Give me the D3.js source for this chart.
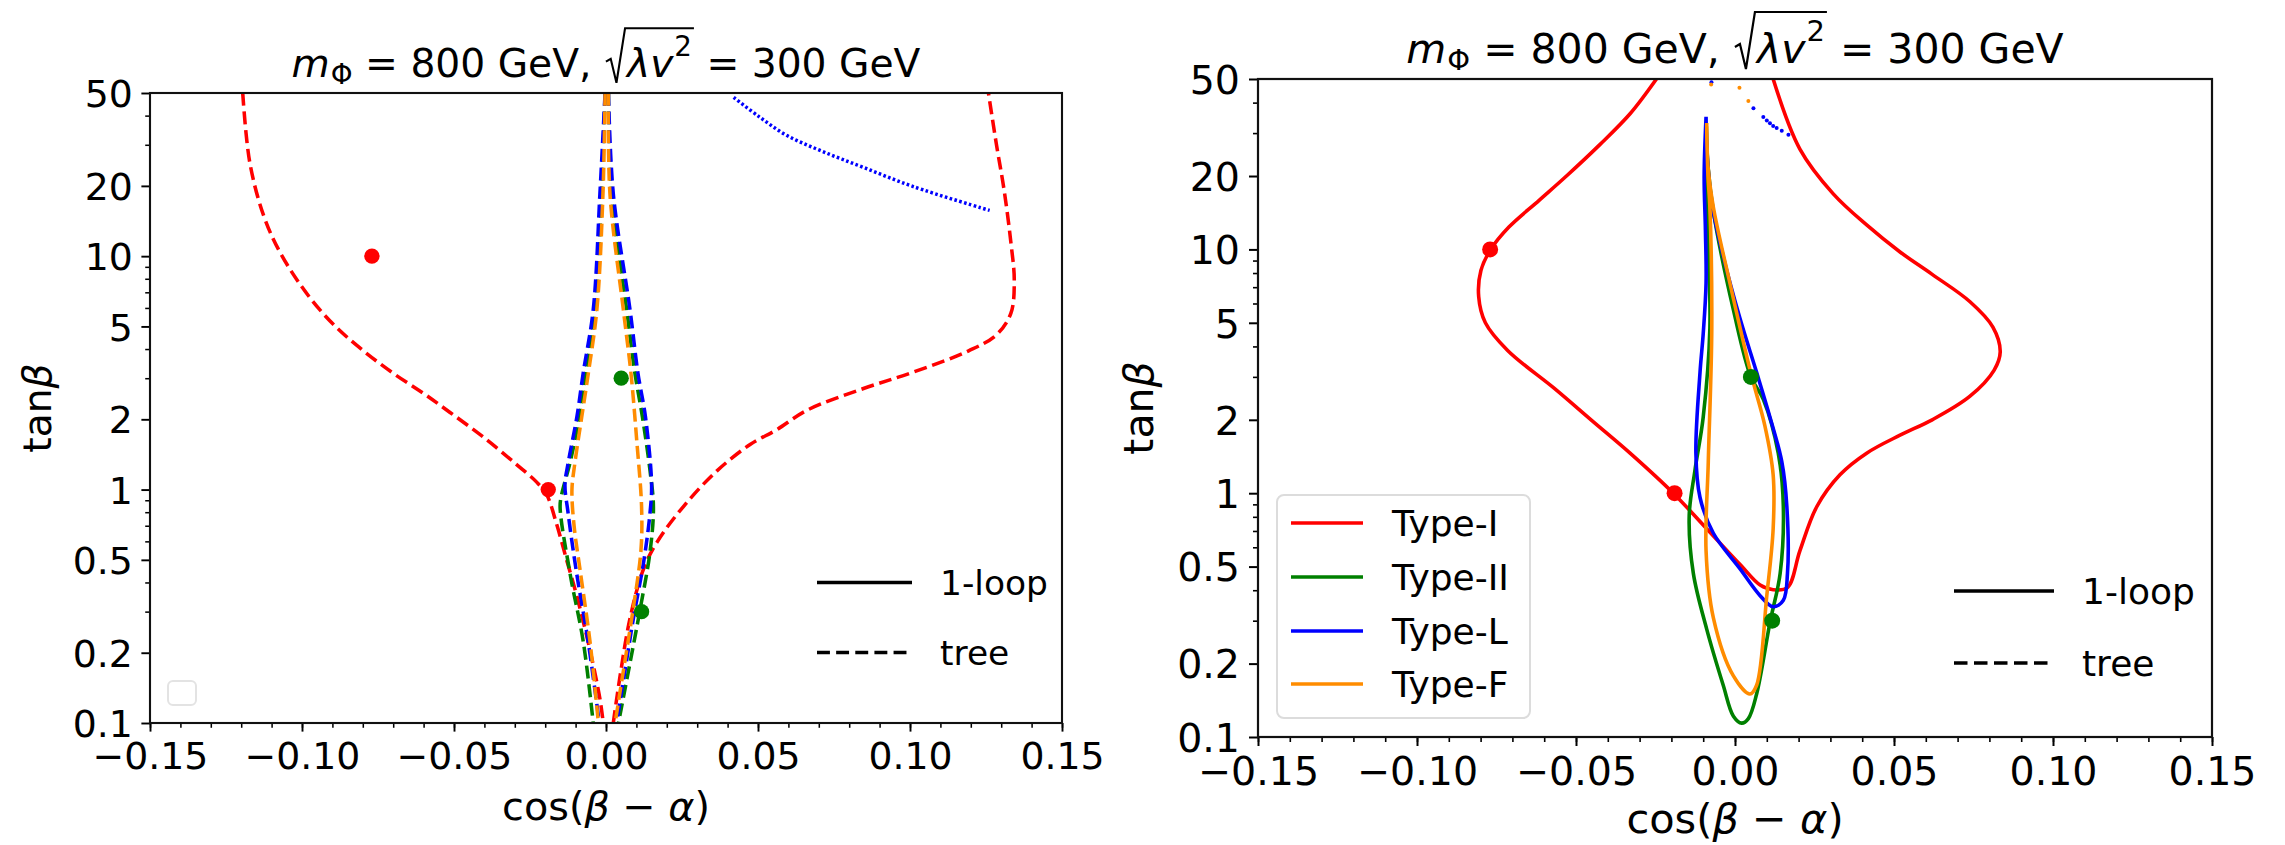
<!DOCTYPE html>
<html>
<head>
<meta charset="utf-8">
<script src="https://cdn.jsdelivr.net/npm/d3@7"></script>
<style>
  html, body { margin: 0; padding: 0; background: #fff; }
  svg { display: block; }
  text { font-family: "DejaVu Sans", sans-serif; fill: #000; }
</style>
</head>
<body>
<svg id="chart" width="2285" height="845"></svg>
<script>
// ---------- axis ticks ----------
const xMajorTicks = [-0.15, -0.10, -0.05, 0.00, 0.05, 0.10, 0.15];
const xMinorTicks = d3.range(-15, 16).map(i => i / 100);
const yMajorTicks = [0.1, 0.2, 0.5, 1, 2, 5, 10, 20, 50];
const yMinorTicks = [0.3, 0.4, 0.6, 0.7, 0.8, 0.9, 3, 4, 6, 7, 8, 9, 30, 40];

// ---------- benchmark points [cos(beta-alpha), tan(beta)] ----------
const pointsTypeI = [[-0.077, 10], [-0.019, 1]];
const pointsTypeII = [[0.005, 3], [0.0117, 0.3]];

// ---------- tree-level contours (left panel) ----------
const treeTypeI_left = [[-0.1195,50],[-0.1172,25.3],[-0.1126,14.9],[-0.1069,10.2],[-0.0976,6.69],[-0.0890,5.0],[-0.0800,3.95],[-0.0700,3.15],[-0.0600,2.58],[-0.0513,2.14],[-0.0404,1.68],[-0.0294,1.28],[-0.0228,1.076],[-0.0195,0.95],[-0.0162,0.708],[-0.0129,0.497],[-0.0096,0.35],[-0.0053,0.206],[-0.0020,0.127],[-0.0009,0.1]];
const treeTypeI_right = [[0.0024,0.1],[0.0046,0.158],[0.0079,0.281],[0.0123,0.455],[0.0167,0.593],[0.0254,0.844],[0.0364,1.2],[0.0474,1.56],[0.0560,1.80],[0.0662,2.19],[0.0847,2.71],[0.1009,3.18],[0.1193,3.93],[0.1285,4.61],[0.1332,5.7],[0.1343,7.85],[0.1332,11.4],[0.1309,19.4],[0.1285,29.7],[0.1258,50]];
const treeTypeII_left = [[-0.0003,50],[-0.0015,18.5],[-0.0035,5.9],[-0.0067,3.16],[-0.0088,2.04],[-0.0118,1.31],[-0.0146,0.95],[-0.0151,0.844],[-0.0118,0.435],[-0.0075,0.224],[-0.0042,0.1]];
const treeTypeII_right = [[0.0008,50],[0.0018,18.5],[0.0068,5.9],[0.0095,3.16],[0.0120,2.04],[0.0145,1.2],[0.0156,0.844],[0.0145,0.543],[0.0112,0.306],[0.0079,0.181],[0.0041,0.1]];
const treeTypeL_left = [[-0.0003,50],[-0.0020,18.5],[-0.0042,5.9],[-0.0075,3.16],[-0.0096,2.04],[-0.0124,1.31],[-0.0135,1.05],[-0.0125,0.8],[-0.0098,0.45],[-0.0058,0.22],[-0.0022,0.1]];
const treeTypeL_right = [[0.0008,50],[0.0024,18.5],[0.0079,5.9],[0.0105,3.16],[0.0130,2.04],[0.0150,1.05],[0.0145,0.8],[0.0125,0.5],[0.0090,0.28],[0.0060,0.16],[0.0035,0.1]];
const treeTypeL_upper = [[0.042,47.9],[0.0501,39.8],[0.0593,33],[0.0709,28.2],[0.0847,24],[0.1009,19.9],[0.1262,15.7]];
const treeTypeF_left = [[-0.0003,50],[-0.0010,18.5],[-0.0030,5.9],[-0.0058,3.16],[-0.0080,2.04],[-0.0102,1.31],[-0.0112,1.0],[-0.0105,0.7],[-0.0085,0.45],[-0.0052,0.22],[-0.0025,0.1]];
const treeTypeF_right = [[0.0008,50],[0.0013,18.5],[0.0057,5.9],[0.0082,3.16],[0.0101,1.63],[0.0117,0.844],[0.0115,0.55],[0.0088,0.3],[0.0058,0.17],[0.0030,0.1]];

// ---------- one-loop contours (right panel) ----------
const loopTypeI = [[-0.0247,50],[-0.033,36],[-0.0425,26.9],[-0.0530,20.0],[-0.0616,15.9],[-0.0711,12.35],[-0.0768,10],[-0.0799,8.2],[-0.0806,6.4],[-0.0785,5.0],[-0.0715,3.85],[-0.0568,2.69],[-0.0449,1.98],[-0.033,1.46],[-0.0194,1.0],[-0.0089,0.715],[0.0016,0.51],[0.0079,0.42],[0.0120,0.402],[0.0165,0.41],[0.0204,0.58],[0.0257,0.88],[0.0330,1.19],[0.0414,1.46],[0.0519,1.73],[0.0620,2.0],[0.0739,2.5],[0.0815,3.2],[0.0834,3.8],[0.0811,4.8],[0.0739,6.1],[0.0620,7.9],[0.0519,9.76],[0.0414,12.6],[0.0309,16.9],[0.0204,25.8],[0.0120,50]];
const loopTypeII = [[-0.0090,32],[-0.0088,15],[-0.0079,4.76],[-0.0100,2.05],[-0.0126,1.24],[-0.0144,0.81],[-0.0131,0.469],[-0.0089,0.277],[-0.0037,0.163],[-0.0005,0.1217],[0.0021,0.114],[0.0042,0.119],[0.0068,0.15],[0.0110,0.295],[0.0142,0.469],[0.0152,0.883],[0.0136,1.46],[0.0089,2.43],[0.0050,3.0],[-0.0005,5.65],[-0.0068,14.3],[-0.0085,22],[-0.0090,32]];
const loopTypeL = [[-0.0091,35],[-0.0097,20],[-0.0093,12],[-0.0091,7.27],[-0.0100,4.5],[-0.0110,3.13],[-0.0123,1.46],[-0.0110,0.96],[-0.0068,0.685],[0.0016,0.489],[0.0079,0.38],[0.0120,0.342],[0.0152,0.364],[0.0165,0.469],[0.0163,0.883],[0.0147,1.35],[0.0110,2.05],[0.0068,3.13],[0.0016,5.19],[-0.0037,9.36],[-0.0073,15.5],[-0.0088,25],[-0.0091,35]];
const loopTypeF = [[-0.0089,33],[-0.0085,20],[-0.0079,14.9],[-0.0073,4.76],[-0.0084,1.35],[-0.0091,0.58],[-0.0068,0.308],[-0.0005,0.178],[0.0047,0.150],[0.0068,0.163],[0.0100,0.38],[0.0120,0.715],[0.0120,1.19],[0.0094,1.89],[0.0050,3.1],[-0.0016,7.27],[-0.0068,14.9],[-0.0085,22],[-0.0089,33]];
// stray tree-level fragments near the top of the right panel
const treeTypeL_fragments = [[-0.0074,48.5],[0.0058,37.9],[0.0089,34.9],[0.0100,33.8],[0.0110,32.9],[0.0120,32.1],[0.0131,31.5],[0.0147,30.7],[0.0168,29.5]];
const treeTypeF_fragments = [[-0.0075,47.5],[0.0014,46],[0.0042,40.6]];

// ---------- legend entries ----------
const typeNames = ["Type-I", "Type-II", "Type-L", "Type-F"];
const typeColors = ["#ff0000", "#008000", "#0000ff", "#ff8c00"];
const styleNames = ["1-loop", "tree"];

const svg = d3.select("#chart");
svg.append("rect").attr("width", 2285).attr("height", 845).attr("fill", "#fff");

// s: overall size factor of each panel (fonts, ticks, strokes)
const panels = [
  { id: "L", s: 0.957, x0: 150, x1: 1062, y0: 93, y1: 723, titleY: 77, xlabY: 820, ylabX: 51 },
  { id: "R", s: 1.0, x0: 1258, x1: 2212, y0: 79, y1: 737, titleY: 63, xlabY: 833, ylabX: 1153 }
];

const fmtX = d => (d < 0 ? "\u2212" : "") + Math.abs(d).toFixed(2);
const fmtY = d => d3.format("~g")(d);

function setupPanel(p) {
  const s = p.s;
  const x = d3.scaleLinear().domain([-0.15, 0.15]).range([p.x0, p.x1]);
  const y = d3.scaleLog().domain([0.1, 50]).range([p.y1, p.y0]);
  const g = svg.append("g");

  svg.append("clipPath").attr("id", "clip" + p.id)
    .append("rect").attr("x", p.x0).attr("y", p.y0)
    .attr("width", p.x1 - p.x0).attr("height", p.y1 - p.y0);

  // minor ticks
  g.append("g").attr("transform", `translate(0,${p.y1})`)
    .call(d3.axisBottom(x).tickValues(xMinorTicks).tickSize(5 * s).tickFormat(""))
    .call(a => a.select(".domain").remove())
    .call(a => a.selectAll("line").attr("stroke-width", 1.6 * s));
  g.append("g").attr("transform", `translate(${p.x0},0)`)
    .call(d3.axisLeft(y).tickValues(yMinorTicks).tickSize(5 * s).tickFormat(""))
    .call(a => a.select(".domain").remove())
    .call(a => a.selectAll("line").attr("stroke-width", 1.6 * s));

  // major ticks + labels
  g.append("g").attr("transform", `translate(0,${p.y1})`)
    .call(d3.axisBottom(x).tickValues(xMajorTicks).tickSize(9 * s).tickPadding(10.5 * s).tickFormat(fmtX))
    .call(a => a.select(".domain").remove())
    .call(a => a.selectAll("line").attr("stroke-width", 2 * s))
    .call(a => a.selectAll("text").attr("font-size", 39.5 * s).attr("font-family", "DejaVu Sans").attr("fill", "#000"));
  g.append("g").attr("transform", `translate(${p.x0},0)`)
    .call(d3.axisLeft(y).tickValues(yMajorTicks).tickSize(9 * s).tickPadding(9 * s).tickFormat(fmtY))
    .call(a => a.select(".domain").remove())
    .call(a => a.selectAll("line").attr("stroke-width", 2 * s))
    .call(a => a.selectAll("text").attr("font-size", 39.5 * s).attr("font-family", "DejaVu Sans").attr("fill", "#000").attr("dy", "0.36em"));

  const plot = svg.append("g").attr("clip-path", `url(#clip${p.id})`);
  return { x, y, g, plot };
}

function lineGen(x, y) {
  return d3.line().x(d => x(d[0])).y(d => y(d[1])).curve(d3.curveCatmullRom.alpha(0.5));
}

function frame(p) {
  svg.append("rect").attr("x", p.x0).attr("y", p.y0)
    .attr("width", p.x1 - p.x0).attr("height", p.y1 - p.y0)
    .attr("fill", "none").attr("stroke", "#111").attr("stroke-width", 2.2 * p.s);
}

function title(p) {
  const s = p.s;
  const fs = 41 * s, sfs = 29 * s;
  const cx = (p.x0 + p.x1) / 2;
  const tg = svg.append("g");
  let cur = 0;
  const put = (txt, opts = {}) => {
    const t = tg.append("text").attr("x", cur).attr("y", opts.dy || 0)
      .attr("font-size", opts.size || fs)
      .attr("font-style", opts.italic ? "italic" : "normal")
      .attr("xml:space", "preserve")
      .text(txt);
    const w = t.node().getComputedTextLength();
    cur += w + (opts.after || 0);
  };
  put("m", { italic: true, after: 1 * s });
  put("\u03A6", { size: sfs, dy: 7 * s });
  put(" = 800 GeV, ");
  const radStart = cur;
  cur += 24 * s;
  const inner0 = cur;
  put("\u03BBv", { italic: true, after: 1 * s });
  put("2", { size: sfs, dy: -22 * s });
  cur += 2 * s;
  const inner1 = cur;
  put(" = 300 GeV");
  tg.append("path")
    .attr("d", `M${radStart + 2 * s},${-16 * s} L${radStart + 7 * s},${-19 * s} L${radStart + 13 * s},${6 * s} L${inner0 - 2 * s},${-51 * s} L${inner1},${-51 * s}`)
    .attr("fill", "none").attr("stroke", "#000").attr("stroke-width", 2.2 * s).attr("stroke-linejoin", "miter");
  tg.attr("transform", `translate(${cx - cur / 2},${p.titleY})`);
}

function axisLabels(p) {
  const s = p.s;
  const cx = (p.x0 + p.x1) / 2, cy = (p.y0 + p.y1) / 2;
  const xl = svg.append("text").attr("x", cx).attr("y", p.xlabY)
    .attr("text-anchor", "middle").attr("font-size", 41.5 * s).attr("xml:space", "preserve");
  xl.append("tspan").text("cos(");
  xl.append("tspan").attr("font-style", "italic").text("\u03B2");
  xl.append("tspan").text(" \u2212 ");
  xl.append("tspan").attr("font-style", "italic").text("\u03B1");
  xl.append("tspan").text(")");
  const yl = svg.append("text").attr("transform", `translate(${p.ylabX},${cy}) rotate(-90)`)
    .attr("text-anchor", "middle").attr("font-size", 41 * s);
  yl.append("tspan").text("tan");
  yl.append("tspan").attr("font-style", "italic").text("\u03B2");
}

function styleLegend(p, x0, x1, xt, yLoop, yTree) {
  const s = p.s;
  const lg = svg.append("g");
  const ys = [yLoop, yTree];
  styleNames.forEach((name, i) => {
    lg.append("line").attr("x1", x0).attr("x2", x1).attr("y1", ys[i]).attr("y2", ys[i])
      .attr("stroke", "#000").attr("stroke-width", 3.6 * s)
      .attr("stroke-dasharray", i === 1 ? `${13.5 * s},${6.5 * s}` : null);
    lg.append("text").attr("x", xt).attr("y", ys[i]).attr("dy", "0.36em")
      .attr("font-size", 36 * s).text(name);
  });
}

function dots(plot, x, y, pts, color, r) {
  plot.selectAll(null).data(pts).join("circle")
    .attr("cx", d => x(d[0])).attr("cy", d => y(d[1])).attr("r", r).attr("fill", color);
}

// ================= left panel: tree level =================
{
  const p = panels[0];
  const s = p.s;
  const { x, y, plot } = setupPanel(p);
  const line = lineGen(x, y);
  const dashed = (data, color) => plot.append("path").attr("d", line(data))
    .attr("fill", "none").attr("stroke", color).attr("stroke-width", 3.7 * s)
    .attr("stroke-dasharray", `${13.5 * s},${6 * s}`);

  dashed(treeTypeI_left, typeColors[0]);
  dashed(treeTypeI_right, typeColors[0]);
  dashed(treeTypeII_left, typeColors[1]);
  dashed(treeTypeII_right, typeColors[1]);
  dashed(treeTypeL_left, typeColors[2]);
  dashed(treeTypeL_right, typeColors[2]);
  plot.append("path").attr("d", line(treeTypeL_upper))
    .attr("fill", "none").attr("stroke", typeColors[2]).attr("stroke-width", 3.6 * s)
    .attr("stroke-dasharray", "2.6,2.4");
  dashed(treeTypeF_left, typeColors[3]);
  dashed(treeTypeF_right, typeColors[3]);

  dots(plot, x, y, pointsTypeI, typeColors[0], 8 * s);
  dots(plot, x, y, pointsTypeII, typeColors[1], 8 * s);

  frame(p);
  title(p);
  axisLabels(p);
  styleLegend(p, 817, 912, 940, 582.5, 652.5);

  // empty legend frame
  svg.append("rect").attr("x", 168).attr("y", 681).attr("width", 28).attr("height", 24)
    .attr("rx", 5).attr("fill", "#fff").attr("stroke", "#e3e3e3").attr("stroke-width", 2);
}

// ================= right panel: one loop =================
{
  const p = panels[1];
  const { x, y, plot } = setupPanel(p);
  const line = lineGen(x, y);
  const solid = (data, color) => plot.append("path").attr("d", line(data))
    .attr("fill", "none").attr("stroke", color).attr("stroke-width", 3.6)
    .attr("stroke-linejoin", "round");

  solid(loopTypeI, typeColors[0]);
  solid(loopTypeII, typeColors[1]);
  solid(loopTypeL, typeColors[2]);
  solid(loopTypeF, typeColors[3]);

  dots(plot, x, y, treeTypeL_fragments, typeColors[2], 2);
  dots(plot, x, y, treeTypeF_fragments, typeColors[3], 2);

  dots(plot, x, y, pointsTypeI, typeColors[0], 8);
  dots(plot, x, y, pointsTypeII, typeColors[1], 8);

  frame(p);
  title(p);
  axisLabels(p);
  styleLegend(p, 1954, 2054, 2082, 591, 663);

  // model legend
  const lg = svg.append("g");
  lg.append("rect").attr("x", 1277).attr("y", 495).attr("width", 253).attr("height", 223)
    .attr("rx", 7).attr("fill", "#fff").attr("fill-opacity", 0.8)
    .attr("stroke", "#dcdcdc").attr("stroke-width", 2);
  const rowsY = [523, 577, 631, 684];
  typeNames.forEach((name, i) => {
    lg.append("line").attr("x1", 1291).attr("x2", 1363).attr("y1", rowsY[i]).attr("y2", rowsY[i])
      .attr("stroke", typeColors[i]).attr("stroke-width", 3.4);
    lg.append("text").attr("x", 1392).attr("y", rowsY[i]).attr("dy", "0.36em")
      .attr("font-size", 36).text(name);
  });
}
</script>
</body>
</html>
